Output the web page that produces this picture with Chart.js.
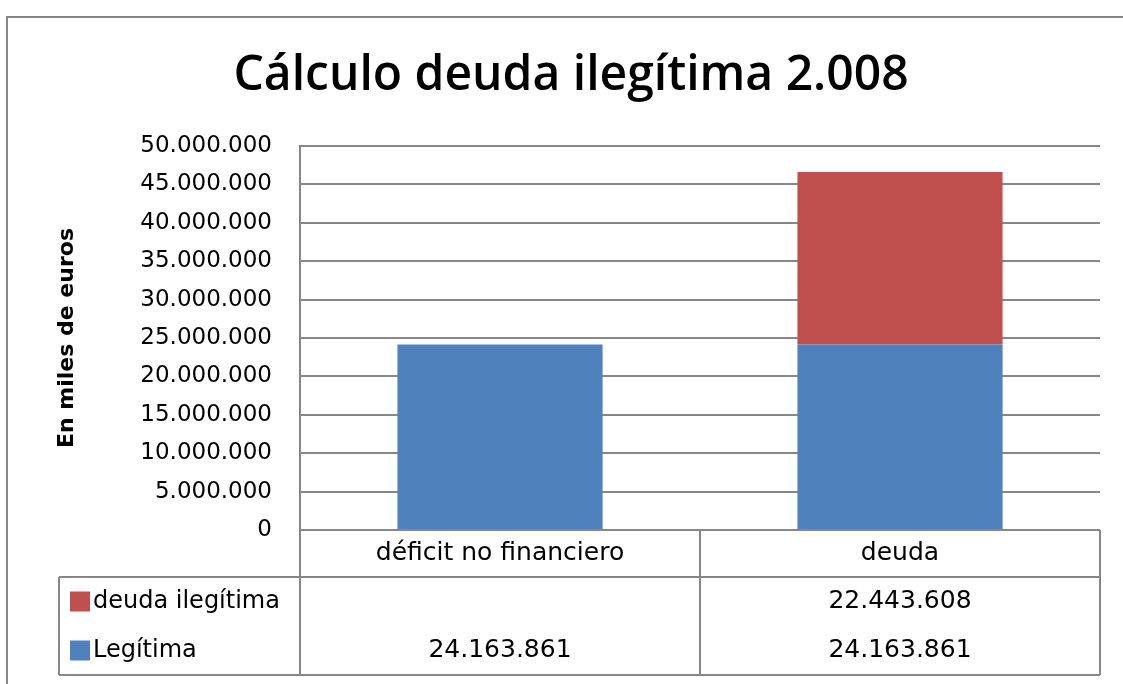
<!DOCTYPE html>
<html>
<head>
<meta charset="utf-8">
<script src="https://cdn.jsdelivr.net/npm/chart.js@4.4.1/dist/chart.umd.min.js"></script>
<style>
  html, body { margin: 0; padding: 0; background: #fff; }
  #wrap { width: 1123px; height: 684px; }
</style>
</head>
<body>
<div id="wrap"><canvas id="chart" width="1123" height="684"></canvas></div>
<script>
// data
const titleText = 'Cálculo deuda ilegítima 2.008';
const axisTitle = 'En miles de euros';
const categories = ['déficit no financiero', 'deuda'];
const legitima = [24163861, 24163861];
const ilegitima = [null, 22443608];
const seriesNames = ['Legítima', 'deuda ilegítima'];
const seriesColors = ['#4F81BD', '#C0504D'];
const yMax = 50000000;
const yStep = 5000000;

const GRID = '#878787';

// 24163861 -> 24.163.861
function fmt(v) {
    return String(v).replace(/\B(?=(\d{3})+(?!\d))/g, '.');
}

// frame, title and the data table under the plot (Excel style)
const excelExtras = {
    id: 'excelExtras',
    beforeDraw(chart) {
        const ctx = chart.ctx;
        ctx.save();
        ctx.fillStyle = '#fff';
        ctx.fillRect(0, 0, chart.width, chart.height);
        ctx.strokeStyle = GRID;
        ctx.lineWidth = 2;
        ctx.strokeRect(7, 17, chart.width + 20, chart.height + 20);
        ctx.restore();
    },
    afterDraw(chart) {
        const ctx = chart.ctx;
        const area = chart.chartArea;
        const xs = chart.scales.x;
        const datasets = chart.data.datasets;

        ctx.save();
        // title
        ctx.fillStyle = '#000';
        ctx.font = '600 48px "Open Sans"';
        ctx.textAlign = 'center';
        ctx.textBaseline = 'middle';
        ctx.fillText(titleText, 571, 76);

        // table geometry
        const tableLeft = 59;
        const headerBottom = 577;
        const rowH = 49;
        const tableBottom = headerBottom + rowH * datasets.length;
        const half = area.width / categories.length / 2;

        ctx.strokeStyle = GRID;
        ctx.lineWidth = 2;
        ctx.beginPath();
        ctx.moveTo(area.left, area.bottom);
        ctx.lineTo(area.right, area.bottom);
        ctx.moveTo(tableLeft, headerBottom);
        ctx.lineTo(area.right, headerBottom);
        ctx.moveTo(tableLeft, tableBottom);
        ctx.lineTo(area.right, tableBottom);
        ctx.moveTo(tableLeft, headerBottom);
        ctx.lineTo(tableLeft, tableBottom);
        categories.forEach((c, i) => {
            const x = xs.getPixelForValue(i) - half;
            ctx.moveTo(x, area.bottom);
            ctx.lineTo(x, tableBottom);
        });
        ctx.moveTo(area.right, area.bottom);
        ctx.lineTo(area.right, tableBottom);
        ctx.stroke();

        // header row: category names
        ctx.fillStyle = '#000';
        ctx.font = '25px "DejaVu Sans"';
        ctx.textAlign = 'center';
        categories.forEach((c, i) => {
            ctx.fillText(c, xs.getPixelForValue(i), (area.bottom + headerBottom) / 2);
        });

        // series rows, top series first
        const rows = datasets.slice().reverse();
        rows.forEach((ds, r) => {
            const cy = headerBottom + rowH * r + rowH / 2;
            ctx.fillStyle = ds.backgroundColor;
            ctx.fillRect(70, cy - 10, 20, 20);
            ctx.fillStyle = '#000';
            ctx.font = '24px "DejaVu Sans"';
            ctx.textAlign = 'left';
            ctx.fillText(ds.label, 93, cy);
            ctx.font = '25px "DejaVu Sans"';
            ctx.textAlign = 'center';
            ds.data.forEach((v, i) => {
                if (v === null) return;
                ctx.fillText(fmt(v), xs.getPixelForValue(i), cy);
            });
        });
        ctx.restore();
    }
};

new Chart(document.getElementById('chart'), {
    type: 'bar',
    data: {
        labels: categories,
        datasets: [
            { label: seriesNames[0], data: legitima, backgroundColor: seriesColors[0] },
            { label: seriesNames[1], data: ilegitima, backgroundColor: seriesColors[1] }
        ]
    },
    options: {
        responsive: false,
        devicePixelRatio: 1,
        animation: false,
        layout: { padding: { left: 50, top: 146, right: 23, bottom: 154 } },
        datasets: { bar: { categoryPercentage: 1, barPercentage: 1 / 1.95 } },
        plugins: {
            legend: { display: false },
            tooltip: { enabled: false },
            title: { display: false }
        },
        scales: {
            x: { display: false, stacked: true },
            y: {
                stacked: true,
                min: 0,
                max: yMax,
                afterFit(scale) { scale.width = 250; },
                ticks: {
                    stepSize: yStep,
                    padding: 28,
                    color: '#000',
                    font: { family: 'DejaVu Sans', size: 23 },
                    callback: (v) => fmt(v)
                },
                grid: { color: GRID, lineWidth: 2, drawTicks: false },
                border: { color: GRID, width: 2 },
                title: {
                    display: true,
                    text: axisTitle,
                    color: '#000',
                    font: { family: 'DejaVu Sans', size: 22, weight: 'bold' },
                    padding: 4
                }
            }
        }
    },
    plugins: [excelExtras]
});
</script>
</body>
</html>
